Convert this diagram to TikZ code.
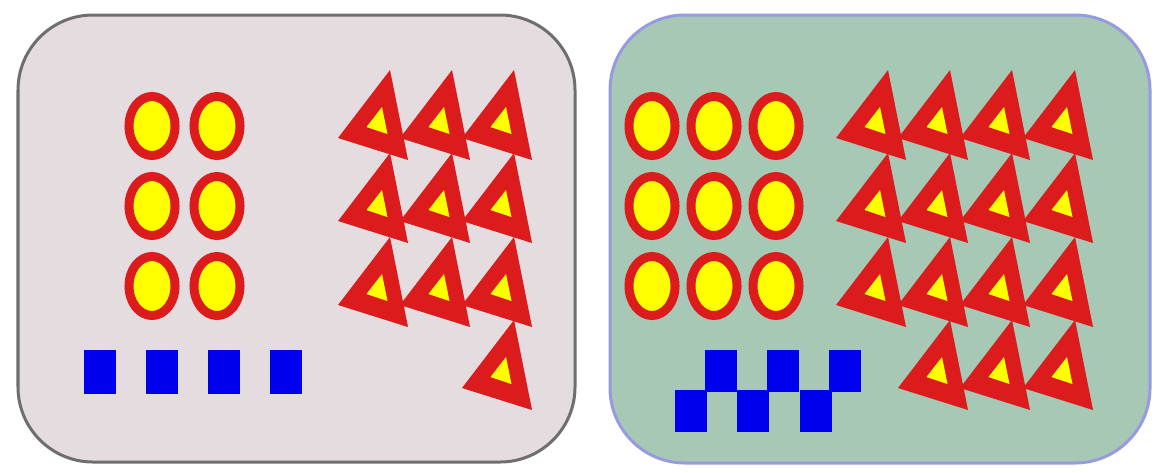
\documentclass[tikz,border=0pt]{standalone}
\usepackage{tikz}
\definecolor{leftfill}{RGB}{228,220,223}
\definecolor{leftedge}{RGB}{110,110,110}
\definecolor{rightfill}{RGB}{166,200,181}
\definecolor{rightedge}{RGB}{150,155,225}
\definecolor{dotred}{RGB}{220,28,28}
\definecolor{dotyellow}{RGB}{255,255,0}
\definecolor{sqblue}{RGB}{0,0,238}

\begin{document}
\begin{tikzpicture}[x=0.01cm,y=-0.01cm,
  box/.style={line width=0.03cm,rounded corners=0.75cm},
  dot/.style={draw=dotred,fill=dotyellow,line width=0.09cm},
  sq/.style={fill=sqblue},
  tri/.style={fill=dotred}, triin/.style={fill=dotyellow}]
\useasboundingbox (0,0) rectangle (1155,472);
\coordinate (A) at (18,15); \coordinate (B) at (575,462);
\coordinate (C) at (610,15); \coordinate (D) at (1150,463);
\draw[box,draw=leftedge,fill=leftfill] (A) rectangle (B);
\draw[box,draw=rightedge,fill=rightfill] (C) rectangle (D);
% ovals
\foreach \x in {152,217} \foreach \y in {126,206,286}
  \draw[dot] (\x,\y) ellipse [x radius=0.23cm, y radius=0.295cm];
\foreach \x in {652,714,776} \foreach \y in {126,206,286}
  \draw[dot] (\x,\y) ellipse [x radius=0.23cm, y radius=0.295cm];
% squares
\foreach \x in {100,162,224,286} \fill[sq] (\x-16,372-22) rectangle ++(32,44);
\foreach \x in {691,753,816} \fill[sq] (\x-16,411-21) rectangle ++(32,42);
\foreach \x in {721,783,845} \fill[sq] (\x-16,371-21) rectangle ++(32,42);
% triangles
\foreach \x/\y in {390/70,452/70,514/70,390/153,452/153,514/153,390/237,452/237,514/237,514/320,
  888/70,950/70,1012/70,1075/70,888/153,950/153,1012/153,1075/153,
  888/237,950/237,1012/237,1075/237,950/320,1012/320,1075/320}{
  \fill[tri] (\x,\y) -- ++(-52,68) -- ++(70,22) -- cycle;
  \fill[triin] (\x-8,\y+37) -- (\x-23.5,\y+57) -- (\x-2.5,\y+64) -- cycle;
}
\end{tikzpicture}
\end{document}
